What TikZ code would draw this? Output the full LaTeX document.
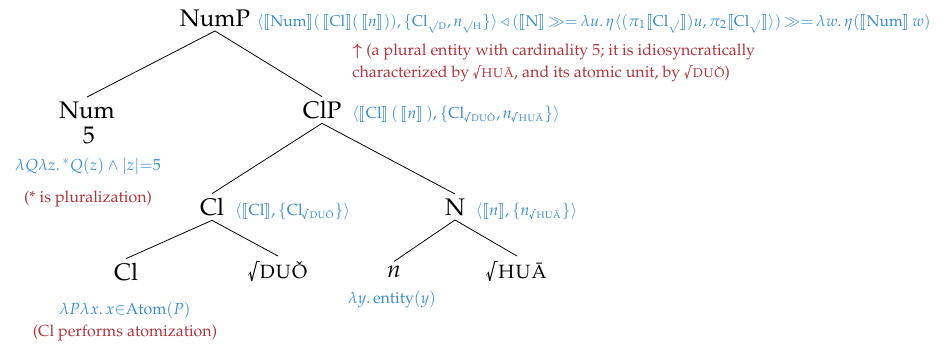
\documentclass[tikz,border=0pt]{standalone}
\usepackage[T1]{fontenc}
\usepackage{mathpazo}
\usepackage{amsmath}
\usepackage{stmaryrd}
\usetikzlibrary{positioning}
\definecolor{semblue}{HTML}{3A8CCB}
\definecolor{notered}{HTML}{B0343C}
\newcommand{\CatF}{\fontsize{12}{14}\selectfont}
\newcommand{\SemF}{\fontsize{8}{11}\selectfont}
\newcommand{\den}[1]{\llbracket #1\rrbracket}
\newcommand{\rootof}[1]{\textsurd\textsc{#1}}
\tikzset{
  cat/.style={font=\CatF, inner sep=2pt},
  sem/.style={font=\SemF, text=semblue, anchor=base west, inner sep=0pt},
  note/.style={font=\SemF, text=notered, inner sep=0pt}
}

\begin{document}
\begin{tikzpicture}[x=0.5pt,y=-0.5pt]
\useasboundingbox (0,0) rectangle (944,346);
% tree
\node[cat] (nump) at (215,18) {NumP};
\node[cat] (num) at (87,110) {Num};
\node[cat] (five) at (89,135) {5};
\node[cat] (clp) at (322,110) {ClP};
\node[cat] (clm) at (212,207) {Cl};
\node[cat] (nn) at (455,207) {N};
\node[cat] (cl) at (126,272) {Cl};
\node[cat] (duo) at (278,272) {\rootof{du\v{o}}};
\node[cat] (n) at (394,272) {\textit{n}};
\node[cat] (hua) at (517,272) {\rootof{hu\={a}}};
\draw (nump.south) -- (num.north);
\draw (nump.south) -- (clp.north);
\draw (clp.south) -- (clm.north);
\draw (clp.south) -- (nn.north);
\draw (clm.south) -- (cl.north);
\draw (clm.south) -- (duo.north);
\draw (nn.south) -- (n.north);
\draw (nn.south) -- (hua.north);
% semantics
\node[sem, font=\fontsize{7.8}{9}\selectfont] (numpsem) at ([xshift=1pt]nump.base east) {$\langle\den{\text{Num}}(\,\den{\text{Cl}}(\,\den{\textit{n}})),\{\text{Cl}_{\surd\textsc{d}},\textit{n}_{\surd\textsc{h}}\}\rangle\triangleleft(\den{\text{N}}\,{\gg}{=}\,\lambda u.\,\eta\langle(\pi_1\den{\text{Cl}_\surd})u,\pi_2\den{\text{Cl}_\surd}\rangle)\,{\gg}{=}\,\lambda w.\,\eta(\den{\text{Num}}\,w)$};
\node[sem] (clpsem) at ([xshift=3pt]clp.base east) {$\langle\den{\text{Cl}}\,(\,\den{\textit{n}}\,),\{\text{Cl}_{\text{\rootof{du\v{o}}}},\textit{n}_{\text{\rootof{hu\={a}}}}\}\rangle$};
\node[sem] (clmsem) at ([xshift=3pt]clm.base east) {$\langle\den{\text{Cl}},\{\text{Cl}_{\text{\rootof{du\v{o}}}}\}\rangle$};
\node[sem] (nsem) at ([xshift=3pt]nn.base east) {$\langle\den{\textit{n}},\{\textit{n}_{\text{\rootof{hu\={a}}}}\}\rangle$};
\node[sem, anchor=center] (fivesem) at (88,166) {$\lambda Q\lambda z.\,{}^*Q(z)\wedge|z|{=}5$};
\node[sem, anchor=center] (clsem) at (125,310) {$\lambda P\lambda x.\,x{\in}\mathrm{Atom}(P)$};
\node[sem, anchor=center] (nsemleaf) at (392,300) {$\lambda y.\,\mathrm{entity}(y)$};
% notes
\node[note, anchor=north west, align=left] (plural) at (352,44) {$\boldsymbol{\uparrow}$ (a plural entity with cardinality 5; it is idiosyncratically\\ characterized by \rootof{hu\={a}}, and its atomic unit, by \rootof{du\v{o}})};
\node[note] (pluralize) at (88,199) {(* is pluralization)};
\node[note] (atomize) at (125,333) {(Cl performs atomization)};
\end{tikzpicture}
\end{document}
